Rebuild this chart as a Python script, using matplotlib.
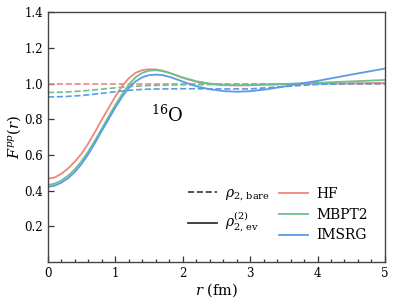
import matplotlib
matplotlib.use("Agg")
import matplotlib.pyplot as plt
from matplotlib.lines import Line2D
from matplotlib.ticker import MultipleLocator

plt.rcParams['font.family'] = 'DejaVu Serif'
plt.rcParams['mathtext.fontset'] = 'dejavuserif'

# ---- data ----
r_solid = [0.0, 0.1, 0.2, 0.3, 0.4, 0.5, 0.6, 0.7, 0.8, 0.9, 1.0, 1.1, 1.2, 1.3, 1.4, 1.5,
           1.6, 1.7, 1.8, 1.9, 2.0, 2.2, 2.4, 2.6, 2.8, 3.0, 3.25, 3.5, 3.75, 4.0, 4.5, 5.0]
hf_ev = [0.467, 0.474, 0.495, 0.525, 0.563, 0.608, 0.665, 0.73, 0.798, 0.863, 0.928, 0.985,
         1.03, 1.06, 1.075, 1.08, 1.079, 1.072, 1.06, 1.046, 1.032, 1.01, 0.997, 0.991,
         0.989, 0.99, 0.993, 0.996, 0.998, 0.999, 1.001, 1.003]
mbpt2_ev = [0.432, 0.439, 0.457, 0.484, 0.52, 0.566, 0.62, 0.682, 0.748, 0.815, 0.88, 0.94,
            0.993, 1.035, 1.06, 1.072, 1.075, 1.07, 1.06, 1.047, 1.034, 1.013, 1.0, 0.993,
            0.991, 0.992, 0.995, 0.998, 1.001, 1.004, 1.012, 1.02]
imsrg_ev = [0.421, 0.428, 0.445, 0.47, 0.505, 0.55, 0.605, 0.668, 0.735, 0.80, 0.865, 0.925,
            0.975, 1.012, 1.035, 1.047, 1.05, 1.047, 1.038, 1.025, 1.011, 0.985, 0.968, 0.958,
            0.954, 0.957, 0.968, 0.983, 1.0, 1.015, 1.05, 1.084]

r_bare = [0.0, 0.25, 0.5, 0.75, 1.0, 1.25, 1.5, 2.0, 2.5, 3.0, 3.5, 4.0, 4.5, 5.0]
hf_bare = [1.0, 1.0, 1.0, 1.0, 1.0, 1.0, 1.0, 1.0, 1.0, 1.0, 1.0, 1.0, 1.0, 1.0]
mbpt2_bare = [0.95, 0.952, 0.958, 0.967, 0.976, 0.984, 0.989, 0.993, 0.995, 0.996, 0.997,
              0.999, 1.0, 1.0]
imsrg_bare = [0.925, 0.927, 0.933, 0.943, 0.954, 0.964, 0.969, 0.971, 0.97, 0.970, 0.983,
              0.995, 0.999, 1.0]

methods = ["HF", "MBPT2", "IMSRG"]
colors = ["#f0857f", "#6dc08e", "#5a9be8"]

fig = plt.figure(figsize=(3.96, 3.03), dpi=100)
ax = fig.add_axes([0.121, 0.135, 0.851, 0.825])

for ev, bare, c in zip([hf_ev, mbpt2_ev, imsrg_ev], [hf_bare, mbpt2_bare, imsrg_bare], colors):
    ax.plot(r_bare, bare, color=c, ls='--', lw=1.2)
    ax.plot(r_solid, ev, color=c, ls='-', lw=1.3)

ax.set_xlim(0, 5)
ax.set_ylim(0, 1.4)
ax.set_yticks([0.2, 0.4, 0.6, 0.8, 1.0, 1.2, 1.4])
ax.xaxis.set_minor_locator(MultipleLocator(0.2))
ax.tick_params(which='both', direction='in', labelsize=8.5, color='#333333', width=0.9)
ax.tick_params(which='major', length=4.5)
ax.tick_params(which='minor', length=2.5)
for s in ax.spines.values():
    s.set_color('#444444')
    s.set_linewidth(1.0)

ax.set_xlabel(r"$r$ (fm)", fontsize=10.5, labelpad=1)
ax.set_ylabel(r"$F^{pp}(r)$", fontsize=10.5, labelpad=1)

ax.text(1.77, 0.82, r"$^{16}$O", fontsize=13, ha='center', va='center')

h1 = [Line2D([], [], color='#333333', ls='--', lw=1.2),
      Line2D([], [], color='#333333', ls='-', lw=1.3)]
l1 = ax.legend(h1, [r"$\rho_{2,\,\mathrm{bare}}$", r"$\rho^{(2)}_{2,\,\mathrm{ev}}$"],
               loc='upper left', bbox_to_anchor=(0.415, 0.303), frameon=False,
               fontsize=10, handlelength=2.1, handletextpad=0.6, labelspacing=0.5,
               borderpad=0, borderaxespad=0)
ax.add_artist(l1)
h2 = [Line2D([], [], color=c, lw=1.3) for c in colors]
ax.legend(h2, methods, loc='upper left', bbox_to_anchor=(0.686, 0.302), frameon=False,
          fontsize=10, handlelength=2.1, handletextpad=0.6, labelspacing=0.5,
          borderpad=0, borderaxespad=0)

fig.savefig("out.png", dpi=100)
